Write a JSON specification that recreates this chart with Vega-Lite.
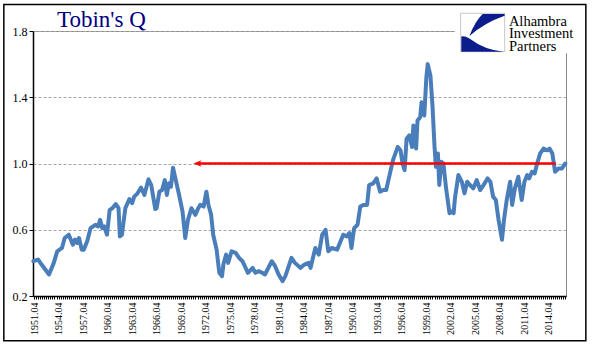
{
  "$schema": "https://vega.github.io/schema/vega-lite/v6.json",
  "width": 533,
  "height": 265,
  "autosize": "none",
  "padding": {"left": 33, "top": 31, "right": 29, "bottom": 65},
  "background": "white",
  "title": {"text": "Tobin's Q", "anchor": "start", "frame": "group", "dx": 24, "dy": 46.5, "offset": 0, "baseline": "alphabetic", "font": "Liberation Serif", "fontSize": 23, "fontWeight": "normal", "color": "#000080"},
  "config": {
    "view": {"stroke": "#868686", "strokeWidth": 1},
    "axis": {"labelFont": "Liberation Serif", "labelColor": "black", "domainColor": "black", "tickColor": "black", "domainWidth": 1.5, "titleFontSize": 0}
  },
  "data": {"values": [
    {"date": "1951-09", "q": 0.41}, {"date": "1952-04", "q": 0.42}, {"date": "1952-09", "q": 0.39}, {"date": "1953-08", "q": 0.33},
    {"date": "1954-03", "q": 0.40}, {"date": "1954-08", "q": 0.47}, {"date": "1955-03", "q": 0.49}, {"date": "1955-07", "q": 0.55},
    {"date": "1956-01", "q": 0.57}, {"date": "1956-07", "q": 0.51}, {"date": "1956-10", "q": 0.54}, {"date": "1957-01", "q": 0.52},
    {"date": "1957-04", "q": 0.55}, {"date": "1957-08", "q": 0.48}, {"date": "1957-11", "q": 0.48}, {"date": "1958-04", "q": 0.53},
    {"date": "1958-09", "q": 0.61}, {"date": "1959-04", "q": 0.63}, {"date": "1959-08", "q": 0.62}, {"date": "1959-11", "q": 0.66},
    {"date": "1960-02", "q": 0.61}, {"date": "1960-05", "q": 0.62}, {"date": "1960-09", "q": 0.57}, {"date": "1961-01", "q": 0.72},
    {"date": "1961-05", "q": 0.73}, {"date": "1961-10", "q": 0.755}, {"date": "1962-02", "q": 0.73}, {"date": "1962-04", "q": 0.56},
    {"date": "1962-07", "q": 0.57}, {"date": "1962-12", "q": 0.73}, {"date": "1963-06", "q": 0.785}, {"date": "1963-10", "q": 0.76},
    {"date": "1964-01", "q": 0.80}, {"date": "1964-06", "q": 0.82}, {"date": "1964-11", "q": 0.855}, {"date": "1965-04", "q": 0.81},
    {"date": "1965-10", "q": 0.905}, {"date": "1966-02", "q": 0.87}, {"date": "1966-08", "q": 0.725}, {"date": "1966-10", "q": 0.73},
    {"date": "1967-02", "q": 0.83}, {"date": "1967-06", "q": 0.84}, {"date": "1967-10", "q": 0.90}, {"date": "1968-01", "q": 0.81},
    {"date": "1968-04", "q": 0.88}, {"date": "1968-07", "q": 0.86}, {"date": "1968-10", "q": 0.975}, {"date": "1969-02", "q": 0.90},
    {"date": "1969-07", "q": 0.81}, {"date": "1969-12", "q": 0.71}, {"date": "1970-04", "q": 0.55}, {"date": "1970-08", "q": 0.66},
    {"date": "1971-01", "q": 0.73}, {"date": "1971-07", "q": 0.69}, {"date": "1971-11", "q": 0.73}, {"date": "1972-02", "q": 0.75},
    {"date": "1972-07", "q": 0.74}, {"date": "1972-11", "q": 0.83}, {"date": "1973-02", "q": 0.75}, {"date": "1973-06", "q": 0.69},
    {"date": "1973-09", "q": 0.57}, {"date": "1974-02", "q": 0.48}, {"date": "1974-06", "q": 0.34}, {"date": "1974-10", "q": 0.32},
    {"date": "1974-12", "q": 0.39}, {"date": "1975-04", "q": 0.45}, {"date": "1975-07", "q": 0.40}, {"date": "1975-12", "q": 0.47},
    {"date": "1976-06", "q": 0.46}, {"date": "1976-11", "q": 0.43}, {"date": "1977-04", "q": 0.41}, {"date": "1977-12", "q": 0.34},
    {"date": "1978-07", "q": 0.37}, {"date": "1978-11", "q": 0.34}, {"date": "1979-04", "q": 0.35}, {"date": "1979-09", "q": 0.34},
    {"date": "1980-01", "q": 0.33}, {"date": "1980-11", "q": 0.41}, {"date": "1981-04", "q": 0.38}, {"date": "1981-09", "q": 0.33},
    {"date": "1982-03", "q": 0.29}, {"date": "1982-07", "q": 0.32}, {"date": "1983-04", "q": 0.43}, {"date": "1983-09", "q": 0.40},
    {"date": "1984-05", "q": 0.37}, {"date": "1984-11", "q": 0.39}, {"date": "1985-05", "q": 0.40}, {"date": "1985-08", "q": 0.37},
    {"date": "1986-03", "q": 0.49}, {"date": "1986-08", "q": 0.45}, {"date": "1987-01", "q": 0.57}, {"date": "1987-06", "q": 0.60},
    {"date": "1987-10", "q": 0.47}, {"date": "1988-03", "q": 0.49}, {"date": "1988-11", "q": 0.48}, {"date": "1989-03", "q": 0.52},
    {"date": "1989-08", "q": 0.57}, {"date": "1990-01", "q": 0.56}, {"date": "1990-05", "q": 0.58}, {"date": "1990-08", "q": 0.49},
    {"date": "1990-12", "q": 0.61}, {"date": "1991-05", "q": 0.63}, {"date": "1991-09", "q": 0.74}, {"date": "1992-02", "q": 0.75},
    {"date": "1992-07", "q": 0.75}, {"date": "1992-10", "q": 0.87}, {"date": "1993-04", "q": 0.88}, {"date": "1993-09", "q": 0.91},
    {"date": "1994-02", "q": 0.83}, {"date": "1994-07", "q": 0.84}, {"date": "1994-11", "q": 0.84}, {"date": "1995-04", "q": 0.93},
    {"date": "1995-09", "q": 1.02}, {"date": "1996-04", "q": 1.10}, {"date": "1996-08", "q": 1.08}, {"date": "1996-11", "q": 1.00},
    {"date": "1997-02", "q": 0.96}, {"date": "1997-05", "q": 1.15}, {"date": "1997-09", "q": 1.17}, {"date": "1998-01", "q": 1.10},
    {"date": "1998-03", "q": 1.23}, {"date": "1998-07", "q": 1.09}, {"date": "1998-09", "q": 1.26}, {"date": "1999-01", "q": 1.28},
    {"date": "1999-03", "q": 1.37}, {"date": "1999-07", "q": 1.29}, {"date": "1999-10", "q": 1.52}, {"date": "1999-12", "q": 1.60},
    {"date": "2000-04", "q": 1.53}, {"date": "2000-07", "q": 1.35}, {"date": "2000-10", "q": 1.10}, {"date": "2000-12", "q": 0.98},
    {"date": "2001-03", "q": 1.06}, {"date": "2001-05", "q": 0.87}, {"date": "2001-08", "q": 1.01}, {"date": "2001-11", "q": 1.00},
    {"date": "2002-03", "q": 0.85}, {"date": "2002-08", "q": 0.70}, {"date": "2002-11", "q": 0.71}, {"date": "2003-02", "q": 0.70},
    {"date": "2003-04", "q": 0.79}, {"date": "2003-09", "q": 0.93}, {"date": "2004-02", "q": 0.89}, {"date": "2004-06", "q": 0.82},
    {"date": "2004-10", "q": 0.89}, {"date": "2005-02", "q": 0.87}, {"date": "2005-07", "q": 0.85}, {"date": "2005-12", "q": 0.90},
    {"date": "2006-05", "q": 0.84}, {"date": "2006-10", "q": 0.87}, {"date": "2007-04", "q": 0.91}, {"date": "2007-08", "q": 0.89},
    {"date": "2007-12", "q": 0.80}, {"date": "2008-04", "q": 0.78}, {"date": "2008-08", "q": 0.66}, {"date": "2009-01", "q": 0.54},
    {"date": "2009-04", "q": 0.66}, {"date": "2009-08", "q": 0.78}, {"date": "2010-01", "q": 0.89}, {"date": "2010-04", "q": 0.75},
    {"date": "2010-08", "q": 0.85}, {"date": "2011-01", "q": 0.92}, {"date": "2011-06", "q": 0.78}, {"date": "2011-10", "q": 0.89},
    {"date": "2012-02", "q": 0.93}, {"date": "2012-05", "q": 0.91}, {"date": "2012-09", "q": 0.95}, {"date": "2013-01", "q": 0.94},
    {"date": "2013-04", "q": 0.99}, {"date": "2013-09", "q": 1.06}, {"date": "2014-02", "q": 1.09}, {"date": "2014-07", "q": 1.08},
    {"date": "2014-11", "q": 1.09}, {"date": "2015-03", "q": 1.06}, {"date": "2015-07", "q": 0.95}, {"date": "2015-12", "q": 0.97},
    {"date": "2016-05", "q": 0.97}, {"date": "2016-10", "q": 1.00}
  ]},
  "layer": [
    {
      "mark": {"type": "line", "color": "#4a7ebb", "strokeWidth": 4, "strokeJoin": "round", "strokeCap": "round"},
      "encoding": {
        "x": {"field": "date", "type": "temporal",
          "scale": {"type": "utc", "domain": [{"year": 1951, "month": 8, "date": 15, "utc": true}, {"year": 2016, "month": 11, "date": 1, "utc": true}], "nice": false},
          "axis": {"title": null, "grid": false, "tickCount": {"interval": "month", "step": 3}, "tickSize": 3, "labelPadding": 3,
            "labelAngle": -90, "labelAlign": "right", "labelBaseline": "middle", "labelFontSize": 10, "labelOverlap": false, "labelFlush": false, "labelBound": false,
            "labelExpr": "(utcmonth(datum.value) == 9 && (utcyear(datum.value) - 1951) % 3 == 0) ? (utcyear(datum.value) + '.04') : ''"}},
        "y": {"field": "q", "type": "quantitative",
          "scale": {"domain": [0.2, 1.8], "nice": false, "zero": false},
          "axis": {"title": null, "values": [0.2, 0.6, 1.0, 1.4, 1.8], "format": ".1f", "labelFontSize": 12, "tickSize": 4, "labelPadding": 2,
            "grid": true, "gridColor": "#a6a6a6", "gridDash": [3, 2], "gridWidth": 1, "labelFlush": false}}
      }
    },
    {
      "data": {"values": [{}]},
      "mark": {"type": "rule", "color": "#ff0000", "strokeWidth": 2.5},
      "encoding": {
        "x": {"datum": {"year": 1971, "month": 9, "date": 1, "utc": true}, "type": "temporal"},
        "x2": {"datum": {"year": 2015, "month": 8, "date": 1, "utc": true}},
        "y": {"datum": 1.0, "type": "quantitative"}
      }
    },
    {
      "data": {"values": [{}]},
      "mark": {"type": "point", "shape": "M-1,0 L1,-0.8 L0.45,0 L1,0.8 Z", "size": 64, "filled": true, "color": "#ff0000", "opacity": 1, "strokeWidth": 0},
      "encoding": {
        "x": {"datum": {"year": 1971, "month": 10, "date": 1, "utc": true}, "type": "temporal"},
        "y": {"datum": 1.0, "type": "quantitative"}
      }
    },
    {
      "data": {"values": [{}]},
      "mark": {"type": "rect", "color": "white", "strokeWidth": 0},
      "encoding": {
        "x": {"datum": {"year": 2003, "month": 4, "date": 1, "utc": true}, "type": "temporal"},
        "x2": {"datum": {"year": 2018, "month": 6, "date": 1, "utc": true}},
        "y": {"datum": 1.87, "type": "quantitative"},
        "y2": {"datum": 1.665}
      }
    },
    {
      "data": {"values": [{}]},
      "mark": {"type": "rect", "fill": "white", "stroke": "#c8c8c8", "strokeWidth": 1},
      "encoding": {
        "x": {"datum": {"year": 2003, "month": 12, "date": 13, "utc": true}, "type": "temporal"},
        "x2": {"datum": {"year": 2009, "month": 5, "date": 1, "utc": true}},
        "y": {"datum": 1.907, "type": "quantitative"},
        "y2": {"datum": 1.675}
      }
    },
    {
      "data": {"values": [{}]},
      "mark": {"type": "point", "shape": "M0,-0.84 L1,-0.84 L1,-0.76 Q0.1,-0.45 -0.6,0.16 Q-0.35,-0.5 0,-0.84 Z M-0.97,0.18 L-0.97,0.87 L0.97,0.87 Q0.1,0.8 -0.6,0.27 Q-0.8,0.15 -0.97,0.18 Z", "size": 1936, "filled": true, "color": "#0b1d8c", "opacity": 1, "strokeWidth": 0},
      "encoding": {
        "x": {"datum": {"year": 2006, "month": 8, "date": 20, "utc": true}, "type": "temporal"},
        "y": {"datum": 1.791, "type": "quantitative"}
      }
    },
    {
      "data": {"values": [{}]},
      "mark": {"type": "text", "align": "left", "baseline": "alphabetic", "font": "Liberation Serif", "fontSize": 14.5, "lineHeight": 12.3, "color": "black"},
      "encoding": {
        "x": {"datum": {"year": 2009, "month": 11, "date": 6, "utc": true}, "type": "temporal"},
        "y": {"datum": 1.83, "type": "quantitative"},
        "text": {"value": ["Alhambra", "Investment", "Partners"]}
      }
    },
    {
      "data": {"values": [{}]},
      "mark": {"type": "rect", "filled": false, "color": "black", "strokeWidth": 1.5},
      "encoding": {
        "x": {"datum": {"year": 1948, "month": 1, "date": 20, "utc": true}, "type": "temporal"},
        "x2": {"datum": {"year": 2019, "month": 4, "date": 7, "utc": true}},
        "y": {"datum": 1.96, "type": "quantitative"},
        "y2": {"datum": -0.07}
      }
    }
  ]
}
